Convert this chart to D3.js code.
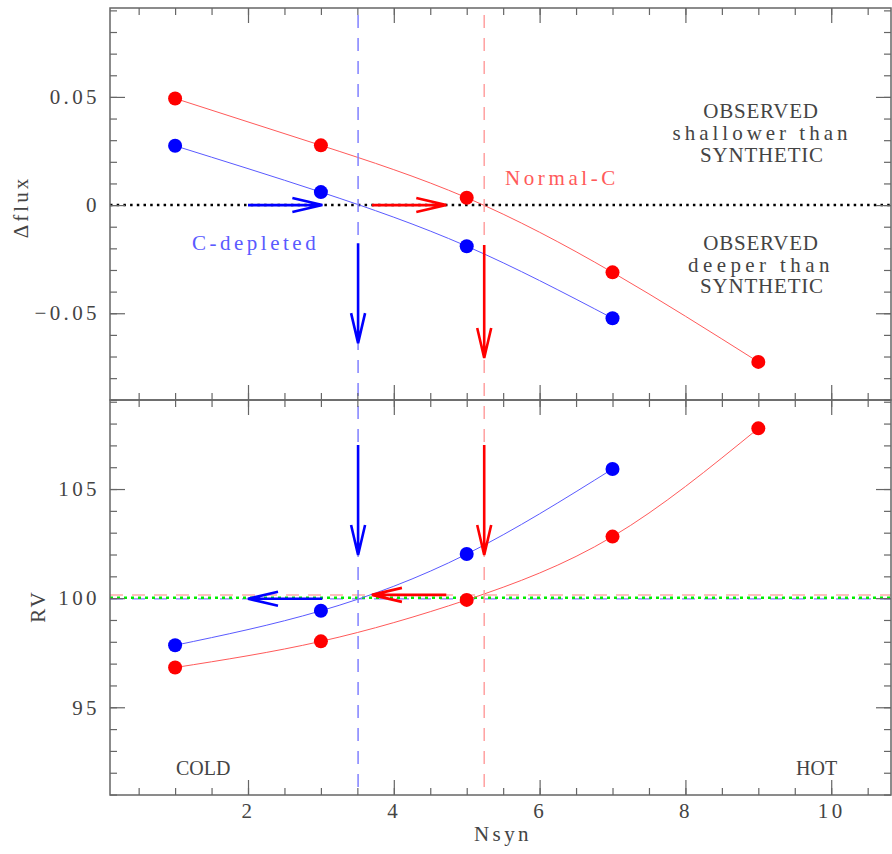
<!DOCTYPE html>
<html>
<head>
<meta charset="utf-8">
<script src="https://cdn.jsdelivr.net/npm/d3@7"></script>
<style>
body { margin: 0; background: #fff; }
text { font-family: "Liberation Serif", "DejaVu Serif", serif; }
</style>
</head>
<body>
<svg id="chart" width="892" height="854"></svg>
<script>
// values
var nsyn = [1, 3, 5, 7, 9];
var fluxNormal = [0.0493, 0.0276, 0.0034, -0.0311, -0.0725];
var fluxDepleted = [0.0274, 0.0060, -0.0190, -0.0523];
var rvNormal = [96.82, 98.02, 99.92, 102.82, 107.78];
var rvDepleted = [97.84, 99.42, 102.02, 105.92];

// best Nsyn for each model (vertical dashed lines)
var bestDepleted = 3.51;
var bestNormal = 5.24;
// reference RV lines
var rvRefNormal = 100.15;
var rvRefDepleted = 99.97;
var rvRefObserved = 100.02;

// arrows: [x1, y1, x2, y2] in data units
var fluxArrowsBlue = [[2.0, 0, 3.02, 0], [3.51, -0.0176, 3.51, -0.0638]];
var fluxArrowsRed = [[3.7, 0, 4.72, 0], [5.24, -0.0185, 5.24, -0.0707]];
var rvArrowsBlue = [[3.51, 107.02, 3.51, 101.98], [3.02, 99.97, 2.0, 99.97]];
var rvArrowsRed = [[5.24, 107.02, 5.24, 101.98], [4.72, 100.15, 3.7, 100.15]];

var xMajor = [2, 4, 6, 8, 10];
var xMinor = d3.range(0.5, 10.75, 0.5);
var fluxMajor = [-0.05, 0, 0.05];
var fluxMinor = d3.range(-9, 10).map(function (d) { return d / 100; });
var rvMajor = [95, 100, 105];
var rvMinor = d3.range(91, 110);

var svg = d3.select("#chart");
var left = 110, right = 891, plotTop = 8, mid = 400, bottom = 795;

var x = d3.scaleLinear().domain([0.107, 10.82]).range([left, right]);
var yFlux = d3.scaleLinear().domain([-0.0901, 0.0911]).range([mid, plotTop]);
var yRV = d3.scaleLinear().domain([90.98, 109.08]).range([bottom, mid]);

var axisColor = "#666";
var textColor = "#444";

function styleAxis(g) {
  g.select(".domain").remove();
  g.selectAll("line").attr("stroke", axisColor).attr("stroke-width", 1.2);
  g.selectAll("text")
    .attr("fill", textColor)
    .attr("font-size", "21px")
    .attr("letter-spacing", "3.4px")
    .style("font-family", "Liberation Serif");
}

function frameAxes(yScale, yMajor, yMinor, y0, y1, fmt, showX) {
  // left
  svg.append("g").attr("transform", "translate(" + left + ",0)")
    .call(d3.axisLeft(yScale).tickValues(yMinor).tickSize(-7).tickFormat(""))
    .call(styleAxis);
  svg.append("g").attr("transform", "translate(" + left + ",0)")
    .call(d3.axisLeft(yScale).tickValues(yMajor).tickSize(-15).tickPadding(10).tickFormat(fmt))
    .call(styleAxis);
  // right
  svg.append("g").attr("transform", "translate(" + right + ",0)")
    .call(d3.axisRight(yScale).tickValues(yMinor).tickSize(-7).tickFormat(""))
    .call(styleAxis);
  svg.append("g").attr("transform", "translate(" + right + ",0)")
    .call(d3.axisRight(yScale).tickValues(yMajor).tickSize(-15).tickFormat(""))
    .call(styleAxis);
  // top of panel
  svg.append("g").attr("transform", "translate(0," + y0 + ")")
    .call(d3.axisTop(x).tickValues(xMinor).tickSize(-7).tickFormat(""))
    .call(styleAxis);
  svg.append("g").attr("transform", "translate(0," + y0 + ")")
    .call(d3.axisTop(x).tickValues(xMajor).tickSize(-15).tickFormat(""))
    .call(styleAxis);
  // bottom of panel
  svg.append("g").attr("transform", "translate(0," + y1 + ")")
    .call(d3.axisBottom(x).tickValues(xMinor).tickSize(-7).tickFormat(""))
    .call(styleAxis);
  svg.append("g").attr("transform", "translate(0," + y1 + ")")
    .call(d3.axisBottom(x).tickValues(xMajor).tickSize(-15).tickPadding(8)
      .tickFormat(showX ? d3.format("d") : ""))
    .call(styleAxis);
  svg.append("rect")
    .attr("x", left).attr("y", y0)
    .attr("width", right - left).attr("height", y1 - y0)
    .attr("fill", "none").attr("stroke", axisColor).attr("stroke-width", 1.5);
}

function arrow(yScale, a, color) {
  var x1 = x(a[0]), y1 = yScale(a[1]), x2 = x(a[2]), y2 = yScale(a[3]);
  var ang = Math.atan2(y2 - y1, x2 - x1);
  var L = 30, W = 7;
  var bx = x2 - L * Math.cos(ang), by = y2 - L * Math.sin(ang);
  var px = -Math.sin(ang) * W, py = Math.cos(ang) * W;
  svg.append("path")
    .attr("d", "M" + x1 + "," + y1 + "L" + x2 + "," + y2 +
      "M" + (bx + px) + "," + (by + py) + "L" + x2 + "," + y2 + "L" + (bx - px) + "," + (by - py))
    .attr("fill", "none")
    .attr("stroke", color)
    .attr("stroke-width", 2.6);
}

function curve(xs, ys, yScale, color) {
  var pts = ys.map(function (v, i) { return [xs[i], v]; });
  svg.append("path")
    .datum(pts)
    .attr("d", d3.line().x(function (d) { return x(d[0]); })
      .y(function (d) { return yScale(d[1]); }).curve(d3.curveNatural))
    .attr("fill", "none").attr("stroke", color).attr("stroke-width", 1);
  svg.append("g").selectAll("circle").data(pts).join("circle")
    .attr("cx", function (d) { return x(d[0]); })
    .attr("cy", function (d) { return yScale(d[1]); })
    .attr("r", 7)
    .attr("fill", color === "#ff5a5a" ? "#ff0000" : "#0000ff");
}

var fluxFmt = function (d) { return d === 0 ? "0" : d3.format(".2f")(d); };

// ---------- top panel ----------
svg.append("line")
  .attr("x1", left).attr("x2", right)
  .attr("y1", yFlux(0)).attr("y2", yFlux(0))
  .attr("stroke", "#000").attr("stroke-width", 2.5)
  .attr("stroke-dasharray", "2.5,4.2");

curve(nsyn, fluxNormal, yFlux, "#ff5a5a");
curve(nsyn.slice(0, 4), fluxDepleted, yFlux, "#5a5aff");

// ---------- bottom panel ----------
svg.append("line")
  .attr("x1", left).attr("x2", right)
  .attr("y1", yRV(rvRefNormal)).attr("y2", yRV(rvRefNormal))
  .attr("stroke", "#ffaaaa").attr("stroke-width", 1.5)
  .attr("stroke-dasharray", "13,9");
svg.append("line")
  .attr("x1", left).attr("x2", right)
  .attr("y1", yRV(rvRefDepleted)).attr("y2", yRV(rvRefDepleted))
  .attr("stroke", "#8080ff").attr("stroke-width", 1.3)
  .attr("stroke-dasharray", "13,9");
svg.append("line")
  .attr("x1", left).attr("x2", right)
  .attr("y1", yRV(rvRefObserved)).attr("y2", yRV(rvRefObserved))
  .attr("stroke", "#00ee00").attr("stroke-width", 2.5)
  .attr("stroke-dasharray", "3,4");

curve(nsyn, rvNormal, yRV, "#ff5a5a");
curve(nsyn.slice(0, 4), rvDepleted, yRV, "#5a5aff");

// vertical dashed lines over both panels
[[bestDepleted, "#8080ff"], [bestNormal, "#ffa0a0"]].forEach(function (v) {
  svg.append("line")
    .attr("x1", x(v[0])).attr("x2", x(v[0]))
    .attr("y1", plotTop).attr("y2", bottom)
    .attr("stroke", v[1]).attr("stroke-width", 1.5)
    .attr("stroke-dasharray", "13,10")
    .attr("stroke-dashoffset", 16);
});

fluxArrowsBlue.forEach(function (a) { arrow(yFlux, a, "#0000ff"); });
fluxArrowsRed.forEach(function (a) { arrow(yFlux, a, "#ff0000"); });
rvArrowsBlue.forEach(function (a) { arrow(yRV, a, "#0000ff"); });
rvArrowsRed.forEach(function (a) { arrow(yRV, a, "#ff0000"); });

frameAxes(yFlux, fluxMajor, fluxMinor, plotTop, mid, fluxFmt, false);
frameAxes(yRV, rvMajor, rvMinor, mid, bottom, d3.format("d"), true);

// ---------- labels ----------
function label(txt, px, py, opts) {
  var t = svg.append("text")
    .attr("x", px).attr("y", py)
    .attr("font-size", (opts.size || 21) + "px")
    .attr("letter-spacing", (opts.ls || 0) + "px")
    .attr("fill", opts.color || textColor)
    .attr("text-anchor", opts.anchor || "start")
    .text(txt);
  if (opts.rotate) t.attr("transform", "rotate(-90," + px + "," + py + ")");
  return t;
}

label("OBSERVED", 761, 118, { anchor: "middle", ls: 0.8 });
label("shallower than", 762, 140, { anchor: "middle", ls: 4 });
label("SYNTHETIC", 762, 162, { anchor: "middle", ls: 0.8 });
label("OBSERVED", 761, 250, { anchor: "middle", ls: 0.8 });
label("deeper than", 761, 272, { anchor: "middle", ls: 4.4 });
label("SYNTHETIC", 762, 293, { anchor: "middle", ls: 0.8 });

label("Normal-C", 505, 185, { ls: 3.6, color: "#ff5a5a" });
label("C-depleted", 192, 250, { ls: 3.5, color: "#5a5aff" });

label("COLD", 176, 775, { size: 20 });
label("HOT", 796, 775, { size: 20 });

label("Nsyn", 503, 841, { anchor: "middle", ls: 3.4 });
label("\u0394flux", 28, 207, { anchor: "middle", ls: 3, rotate: true });
label("RV", 45, 606, { anchor: "middle", ls: 3, rotate: true });
</script>
</body>
</html>
